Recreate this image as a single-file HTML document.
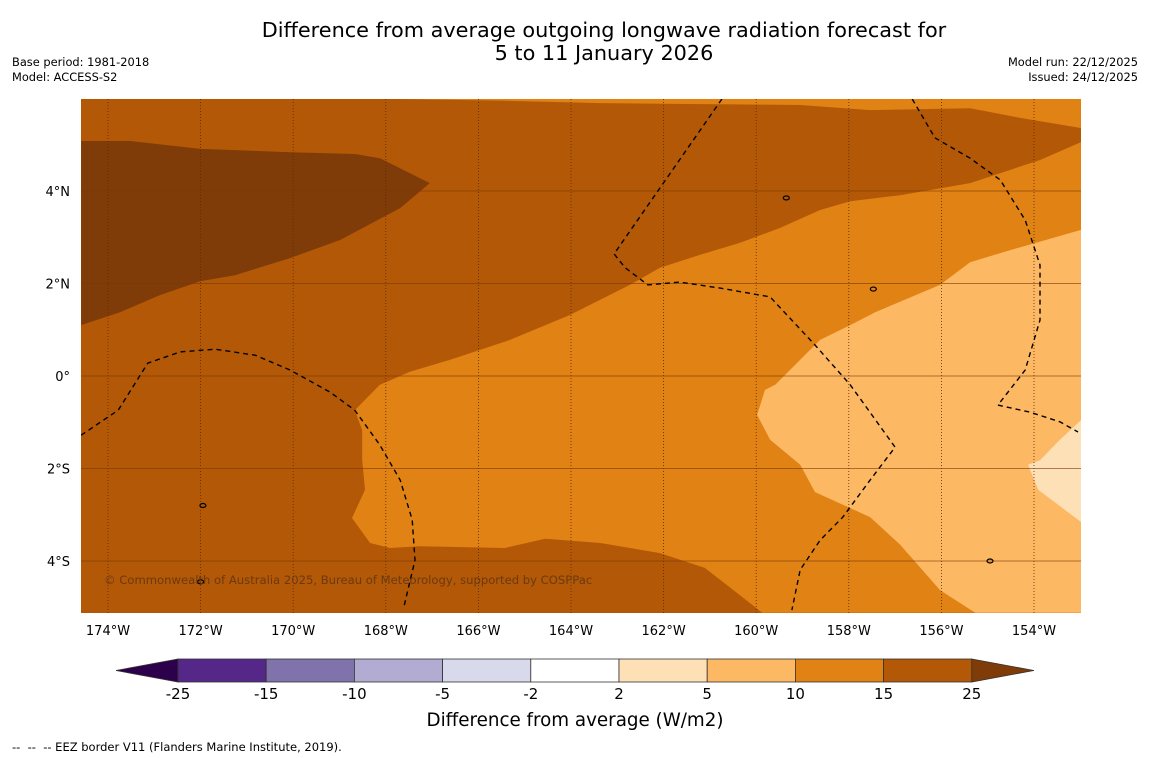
<!DOCTYPE html>
<html><head><meta charset="utf-8"><style>
body{margin:0;background:#fff;font-family:"Liberation Sans","DejaVu Sans",sans-serif}
#wrap{position:relative;width:1150px;height:758px;overflow:hidden;background:#fff}
.t{position:absolute;white-space:nowrap}
</style></head><body>
<div id="wrap">
<div class="t" style="left:0;width:1208px;top:19px;text-align:center;font-size:20.8px;line-height:23px;font-family:'DejaVu Sans',sans-serif">Difference from average outgoing longwave radiation forecast for<br>5 to 11 January 2026</div>
<div class="t" style="left:12px;top:55px;font-size:11.4px;line-height:15px;font-family:'DejaVu Sans',sans-serif">Base period: 1981-2018<br>Model: ACCESS-S2</div>
<div class="t" style="right:12px;top:55px;font-size:11.4px;line-height:15px;text-align:right;font-family:'DejaVu Sans',sans-serif">Model run: 22/12/2025<br>Issued: 24/12/2025</div>
<svg id="map" width="1150" height="758" style="position:absolute;left:0;top:0"></svg>
<div class="t" style="left:12px;top:740px;font-size:11.5px;font-family:'DejaVu Sans',sans-serif">-- &nbsp;-- &nbsp;-- EEZ border V11 (Flanders Marine Institute, 2019).</div>
</div>
<script>
const lonTicks=[-174,-172,-170,-168,-166,-164,-162,-160,-158,-156,-154];
const latTicks=[-4,-2,0,2,4];
const levels=['-25','-15','-10','-5','-2','2','5','10','15','25'];
const binColors=['#542788','#8073ac','#b2abd2','#d8daeb','#ffffff','#fee0b6','#fdb863','#e08214','#b35806'];
const extLow='#2d004b', extHigh='#7f3b08';
const region25=[[-174.58,5.08],[-173.52,5.08],[-172.01,4.91],[-170.07,4.84],[-168.67,4.8],[-168.13,4.71],[-167.05,4.17],[-167.69,3.63],[-168.99,2.94],[-170.07,2.55],[-171.26,2.18],[-172.01,2.05],[-172.88,1.75],[-173.74,1.38],[-174.58,1.1]];
const region10=[[-168.67,-0.74],[-168.13,-0.19],[-167.48,0.09],[-166.61,0.35],[-165.32,0.78],[-164.02,1.32],[-162.73,1.97],[-162.08,2.34],[-161.21,2.62],[-160.35,2.88],[-159.49,3.2],[-158.62,3.59],[-157.97,3.78],[-156.89,3.91],[-155.38,4.17],[-153.87,4.67],[-152.98,5.06],[-152.98,-5.12],[-159.87,-5.12],[-160.35,-4.74],[-161.11,-4.15],[-162.08,-3.83],[-163.37,-3.61],[-164.56,-3.52],[-165.43,-3.72],[-167.26,-3.68],[-167.91,-3.72],[-168.34,-3.61],[-168.73,-3.07],[-168.45,-2.46],[-168.51,-1.82],[-168.51,-1.17]];
const region10top=[[-167.69,5.99],[-152.98,5.99],[-152.98,5.36],[-154.3,5.58],[-155.38,5.79],[-157.54,5.75],[-159.05,5.86],[-161.21,5.88],[-163.37,5.9],[-165.43,5.95]];
const region5=[[-155.27,-5.12],[-156.03,-4.63],[-156.89,-3.65],[-157.54,-3.05],[-158.73,-2.51],[-159.05,-1.92],[-159.7,-1.38],[-159.98,-0.84],[-159.81,-0.3],[-159.59,-0.19],[-159.05,0.35],[-158.62,0.78],[-157.97,1.1],[-157.43,1.38],[-156.03,1.97],[-155.38,2.46],[-154.52,2.72],[-152.98,3.16],[-152.98,-5.12]];
const region2=[[-152.98,-0.95],[-153.44,-1.38],[-153.87,-1.82],[-154.13,-1.92],[-153.91,-2.46],[-152.98,-3.16]];
const eez1=[[-174.58,-1.28],[-173.78,-0.74],[-173.14,0.28],[-172.44,0.52],[-171.69,0.58],[-170.82,0.45],[-170.07,0.13],[-169.2,-0.35],[-168.67,-0.74],[-168.13,-1.49],[-167.69,-2.25],[-167.43,-3.11],[-167.37,-3.98],[-167.61,-4.99]];
const eez2=[[-160.74,5.99],[-163.07,2.64],[-162.83,2.34],[-162.34,1.97],[-161.65,2.03],[-160.78,1.9],[-159.7,1.71],[-158.73,0.67],[-157.97,-0.19],[-157.0,-1.54],[-157.54,-2.25],[-158.13,-3.05],[-158.62,-3.55],[-159.05,-4.19],[-159.23,-5.06]];
const eez3=[[-156.63,5.99],[-156.14,5.15],[-155.38,4.71],[-154.73,4.24],[-154.19,3.37],[-153.87,2.4],[-153.87,1.21],[-154.19,0.13],[-154.78,-0.63],[-154.09,-0.78],[-153.44,-0.99],[-153.05,-1.21]];
const X0=108,Y0=376,PX=46.3,PY=46.25;
const xOf=lon=>X0+(lon+174)*PX, yOf=lat=>Y0-lat*PY;
const svg=document.getElementById('map');const NS='http://www.w3.org/2000/svg';
function mk(tag,at){const e=document.createElementNS(NS,tag);for(const k in at)e.setAttribute(k,at[k]);svg.appendChild(e);return e;}
const pts=a=>a.map(p=>xOf(p[0]).toFixed(1)+','+yOf(p[1]).toFixed(1)).join(' ');
const clip=mk('clipPath',{id:'mc'});const cr=document.createElementNS(NS,'rect');
cr.setAttribute('x',81);cr.setAttribute('y',99);cr.setAttribute('width',1000);cr.setAttribute('height',514);clip.appendChild(cr);
const g=mk('g',{'clip-path':'url(#mc)'});
function add(parent,tag,at){const e=document.createElementNS(NS,tag);for(const k in at)e.setAttribute(k,at[k]);parent.appendChild(e);return e;}
let bg=add(g,'rect',{x:81,y:99,width:1000,height:514,fill:'#b35806'});


const regs=[[region25,'#7f3b08','band-25-plus'],[region10,'#e08214','band-10-15'],[region10top,'#e08214','band-10-15-north'],[region5,'#fdb863','band-5-10'],[region2,'#fee0b6','band-2-5']];
regs.forEach(r=>{const e=add(g,'polygon',{points:pts(r[0]),fill:r[1]});

});
lonTicks.forEach(l=>{const e=add(g,'line',{x1:xOf(l),x2:xOf(l),y1:99,y2:613,stroke:'#5a2a05','stroke-width':0.8,'stroke-dasharray':'1,2'});

});
latTicks.forEach(l=>{const e=add(g,'line',{x1:81,x2:1081,y1:yOf(l),y2:yOf(l),stroke:'#7a3a06','stroke-width':0.8,'stroke-opacity':0.8});

});
[eez1,eez2,eez3].forEach(a=>{const e=add(g,'polyline',{points:pts(a),fill:'none',stroke:'#000','stroke-width':1.4,'stroke-dasharray':'5,4'});

});
[[-159.35,3.85],[-157.47,1.88],[-171.95,-2.8],[-172.0,-4.45],[-154.95,-4.0]].forEach(p=>{const e=add(g,'ellipse',{cx:xOf(p[0]),cy:yOf(p[1]),rx:3,ry:2,fill:'none',stroke:'#000','stroke-width':1.2});

});
const cp=add(g,'text',{x:104,y:584,'font-size':11.6,fill:'#6b3a10','font-family':'DejaVu Sans,sans-serif'});cp.textContent='© Commonwealth of Australia 2025, Bureau of Meteorology, supported by COSPPac';


lonTicks.forEach(l=>{const t=mk('text',{x:xOf(l),y:635,'font-size':13,'text-anchor':'middle','font-family':'DejaVu Sans,sans-serif'});t.textContent=Math.abs(l)+'°W';

});
latTicks.forEach(l=>{const t=mk('text',{x:70,y:yOf(l)+5,'font-size':13,'text-anchor':'end','font-family':'DejaVu Sans,sans-serif'});t.textContent=l===0?'0°':Math.abs(l)+'°'+(l>0?'N':'S');

});
const cbX0=178,cbW=88.2,cbY=659,cbH=23;
let e=mk('polygon',{points:`${cbX0},${cbY} 116,${cbY+cbH/2} ${cbX0},${cbY+cbH}`,fill:extLow,stroke:'#333','stroke-width':0.8});


binColors.forEach((c,i)=>{const r=mk('rect',{x:cbX0+i*cbW,y:cbY,width:cbW,height:cbH,fill:c,stroke:'#333','stroke-width':0.8});

});
const xe=cbX0+binColors.length*cbW;
e=mk('polygon',{points:`${xe},${cbY} 1034,${cbY+cbH/2} ${xe},${cbY+cbH}`,fill:extHigh,stroke:'#333','stroke-width':0.8});


levels.forEach((l,i)=>{const t=mk('text',{x:cbX0+i*cbW,y:699,'font-size':15,'text-anchor':'middle','font-family':'DejaVu Sans,sans-serif'});t.textContent=l;

});
const cl=mk('text',{x:575,y:726,'font-size':18.3,'text-anchor':'middle','font-family':'DejaVu Sans,sans-serif'});cl.textContent='Difference from average (W/m2)';


</script>
</body></html>
